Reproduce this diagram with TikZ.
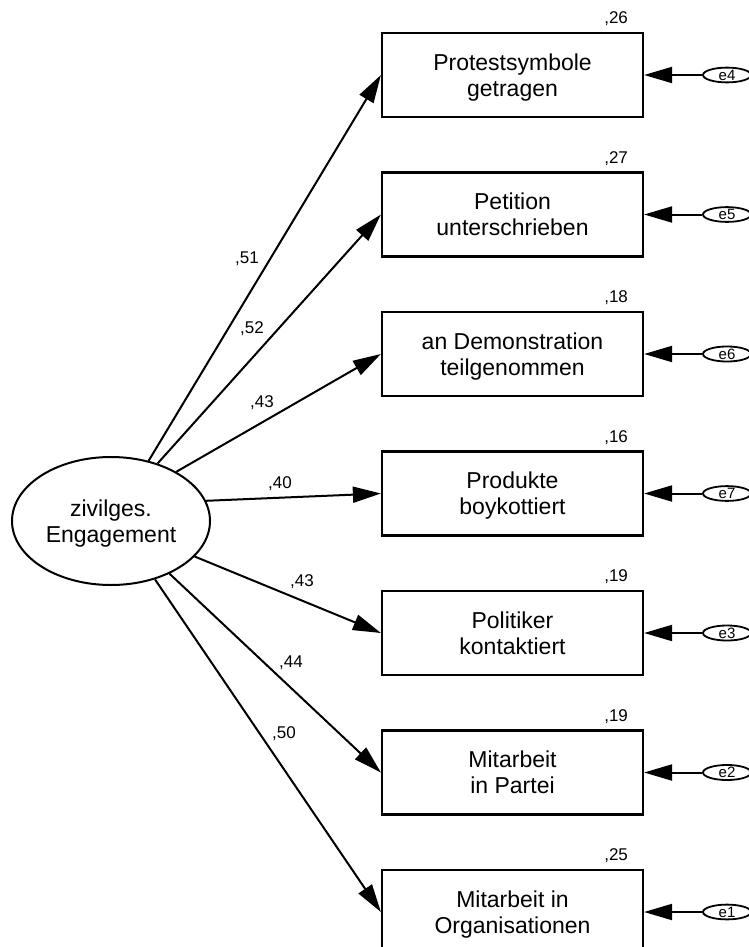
\documentclass[tikz,border=0pt]{standalone}
\usepackage{fontspec}
\setmainfont{Liberation Sans}
\usetikzlibrary{shapes.geometric,arrows.meta}
\begin{document}
\begin{tikzpicture}[x=1pt,y=-1pt,
  obsbox/.style={draw,line width=2.2pt,minimum width=261pt,minimum height=84pt,inner sep=0pt,align=center,text depth=0pt,font=\fontsize{23}{26}\selectfont},
  latent/.style={draw,ellipse,line width=2pt,minimum width=198pt,minimum height=128pt,inner sep=0pt,align=center,text depth=0pt,font=\fontsize{23}{26}\selectfont},
  errnode/.style={draw,ellipse,line width=1.8pt,minimum width=48pt,minimum height=14pt,inner sep=0pt,font=\fontsize{15}{15}\selectfont},
  conn/.style={line width=2pt,-{Triangle[length=28pt,width=16pt]}},
  coef/.style={anchor=base,font=\fontsize{17}{17}\selectfont,inner sep=0pt},
  varl/.style={anchor=base east,font=\fontsize{17}{17}\selectfont,inner sep=0pt}]
\useasboundingbox (0,0) rectangle (748,947);
\fill[white] (0,0) rectangle (748,947);

\node[latent] (lv) at (111,521) {zivilges.\\Engagement};

\node[obsbox] (b1) at (512.5,75) {Protestsymbole\\getragen};
\node[obsbox] (b2) at (512.5,214.5) {Petition\\unterschrieben};
\node[obsbox] (b3) at (512.5,354) {an Demonstration\\teilgenommen};
\node[obsbox] (b4) at (512.5,493.5) {Produkte\\boykottiert};
\node[obsbox] (b5) at (512.5,633) {Politiker\\kontaktiert};
\node[obsbox] (b6) at (512.5,772.5) {Mitarbeit\\in Partei};
\node[obsbox] (b7) at (512.5,912) {Mitarbeit in\\Organisationen};

\foreach \i/\v in {1/26,2/27,3/18,4/16,5/19,6/19,7/25}{
  \node[varl] (v\i) at ([xshift=-16pt,yshift=8pt]b\i.north east) {,\v};
}

\foreach \i/\e in {1/e4,2/e5,3/e6,4/e7,5/e3,6/e2,7/e1}{
  \node[errnode] (err\i) at (b\i.east -| 727,0) {\e};
  \draw[conn] (err\i) -- (b\i.east);
}

\draw[conn] (lv.58.2) -- (b1.west);
\draw[conn] (lv.51.2) -- (b2.west);
\draw[conn] (lv.37.3) -- (b3.west);
\draw[conn] (lv.12.9) -- (b4.west);
\draw[conn] (lv.-23.4) -- (b5.west);
\draw[conn] (lv.-42.4) -- (b6.west);
\draw[conn] (lv.-53.6) -- (b7.west);

\node[coef] (c1) at (247,263) {,51};
\node[coef] (c2) at (252,333) {,52};
\node[coef] (c3) at (262,407) {,43};
\node[coef] (c4) at (280,488) {,40};
\node[coef] (c5) at (302,586) {,43};
\node[coef] (c6) at (291,667) {,44};
\node[coef] (c7) at (284,738) {,50};
\end{tikzpicture}
\end{document}
